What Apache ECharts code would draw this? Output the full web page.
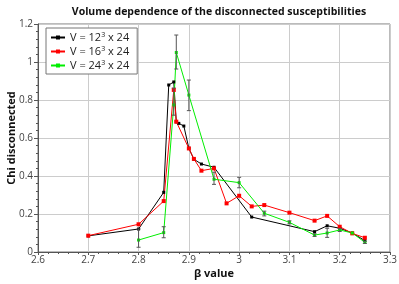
<!DOCTYPE html>
<html><head><meta charset="utf-8">
<script src="https://cdn.jsdelivr.net/npm/echarts@6/dist/echarts.min.js"></script>
<style>html,body{margin:0;padding:0;background:#fff}#c{width:399px;height:284px}</style>
</head><body><div id="c"></div>
<script>
const titleText = 'Volume dependence of the disconnected susceptibilities';
const xName = 'β value';
const yName = 'Chi disconnected';

const beta12 = [2.7, 2.8, 2.85, 2.86, 2.87, 2.875, 2.88, 2.89, 2.9, 2.91, 2.925, 2.95, 3.025, 3.15, 3.175, 3.2, 3.225, 3.25];
const chi12  = [0.085, 0.121, 0.314, 0.879, 0.895, 0.685, 0.677, 0.663, 0.546, 0.488, 0.463, 0.446, 0.184, 0.107, 0.138, 0.125, 0.10, 0.06];

const beta16 = [2.7, 2.8, 2.85, 2.87, 2.875, 2.9, 2.91, 2.925, 2.95, 2.975, 3.0, 3.025, 3.05, 3.1, 3.15, 3.175, 3.2, 3.225, 3.25];
const chi16  = [0.086, 0.146, 0.268, 0.853, 0.686, 0.545, 0.49, 0.428, 0.44, 0.256, 0.296, 0.24, 0.247, 0.207, 0.165, 0.19, 0.133, 0.098, 0.075];

const beta24 = [2.8, 2.85, 2.87, 2.875, 2.9, 2.95, 3.0, 3.05, 3.1, 3.15, 3.175, 3.2, 3.225, 3.25];
const chi24  = [0.063, 0.102, 0.774, 1.05, 0.826, 0.383, 0.365, 0.204, 0.156, 0.089, 0.10, 0.116, 0.10, 0.051];

// error bars (low / high)
const errBeta = [2.8, 2.85, 2.87, 2.875, 2.9, 2.95, 3.0, 3.05, 3.1, 3.15, 3.175, 3.2, 3.25];
const errLow  = [0.025, 0.075, 0.72, 0.963, 0.744, 0.356, 0.338, 0.19, 0.148, 0.082, 0.077, 0.108, 0.045];
const errHigh = [0.121, 0.133, 0.863, 1.142, 0.905, 0.42, 0.393, 0.215, 0.164, 0.096, 0.125, 0.124, 0.057];

const legendNames = ['V = 12{s|3} x 24', 'V = 16{s|3} x 24', 'V = 24{s|3} x 24'];
const colors = ['#000000', '#ff0000', '#00ee00'];

function pairs(xs, ys) { return xs.map((x, i) => [x, ys[i]]); }

const chart = echarts.init(document.getElementById('c'), null, {renderer: 'canvas'});
const lineSeries = (name, xs, ys, color, size) => ({
  name, type: 'line', data: pairs(xs, ys), symbol: 'rect', symbolSize: size,
  itemStyle: {color}, lineStyle: {color, width: 1}, animation: false, z: 3
});

chart.setOption({
  animation: false,
  title: {text: titleText, left: 214, textAlign: 'center', top: 2,
    textStyle: {fontFamily: 'Open Sans', fontWeight: 'bold', fontSize: 10.5, color: '#111'}},
  grid: {left: 38, right: 9, top: 24, bottom: 32, show: true, borderColor: '#777', borderWidth: 1,
    containLabel: false, outerBoundsMode: 'none'},
  legend: {
    orient: 'vertical', left: 46, top: 28, itemWidth: 14, itemHeight: 5, itemGap: 1,
    backgroundColor: '#fff', borderColor: '#777', borderWidth: 1, borderRadius: 0, padding: [3, 8, 2, 4],
    data: legendNames,
    textStyle: {fontFamily: 'Open Sans', fontSize: 11, color: '#222', lineHeight: 13,
      rich: {s: {fontSize: 7, verticalAlign: 'top', lineHeight: 13, padding: [0, 0, 6, 0], fontFamily: 'Open Sans', color: '#222'}}}
  },
  xAxis: {
    type: 'value', min: 2.6, max: 3.3, interval: 0.1,
    name: xName, nameLocation: 'middle', nameGap: 16, nameMoveOverlap: false,
    nameTextStyle: {fontFamily: 'Open Sans', fontWeight: 'bold', fontSize: 11, color: '#111'},
    axisLine: {lineStyle: {color: '#555'}},
    axisTick: {length: 3, lineStyle: {color: '#555'}},
    minorTick: {show: true, splitNumber: 5, length: 2, lineStyle: {color: '#555'}},
    axisLabel: {fontFamily: 'Open Sans', fontSize: 10, color: '#444', margin: 3, formatter: v => String(+v.toFixed(1))},
    splitLine: {show: true, lineStyle: {color: '#ccc', width: 1}}
  },
  yAxis: {
    type: 'value', min: 0, max: 1.2, interval: 0.2,
    name: yName, nameLocation: 'middle', nameGap: 21, nameRotate: 90, nameMoveOverlap: false,
    nameTextStyle: {fontFamily: 'Open Sans', fontWeight: 'bold', fontSize: 11, color: '#111'},
    axisLine: {show: true, lineStyle: {color: '#555'}},
    axisTick: {show: true, length: 4, lineStyle: {color: '#555'}},
    minorTick: {show: true, splitNumber: 5, length: 2, lineStyle: {color: '#555'}},
    axisLabel: {fontFamily: 'Open Sans', fontSize: 10, color: '#444', margin: 5, formatter: v => String(+v.toFixed(1))},
    splitLine: {show: true, lineStyle: {color: '#ccc', width: 1}}
  },
  series: [
    lineSeries(legendNames[0], beta12, chi12, colors[0], 3),
    lineSeries(legendNames[1], beta16, chi16, colors[1], 4),
    lineSeries(legendNames[2], beta24, chi24, colors[2], 3),
    {
      type: 'custom', name: 'err', data: errBeta.map((b, i) => [b, errLow[i], errHigh[i]]),
      z: 4, silent: true,
      renderItem: function (params, api) {
        const lo = api.coord([api.value(0), api.value(1)]);
        const hi = api.coord([api.value(0), api.value(2)]);
        const w = 2;
        const st = {stroke: '#555', lineWidth: 1};
        return {type: 'group', children: [
          {type: 'line', shape: {x1: lo[0], y1: lo[1], x2: hi[0], y2: hi[1]}, style: st},
          {type: 'line', shape: {x1: lo[0] - w, y1: lo[1], x2: lo[0] + w, y2: lo[1]}, style: st},
          {type: 'line', shape: {x1: hi[0] - w, y1: hi[1], x2: hi[0] + w, y2: hi[1]}, style: st}
        ]};
      }
    }
  ]
});
</script></body></html>
